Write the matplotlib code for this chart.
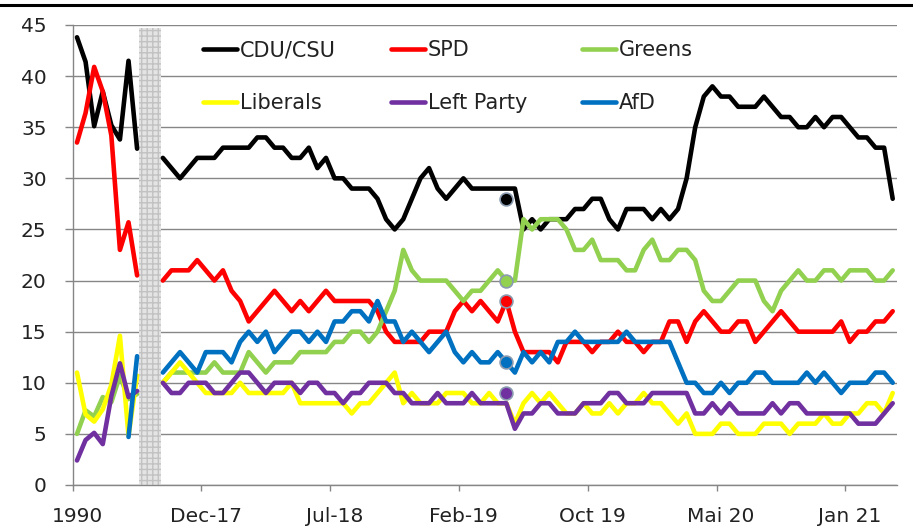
import numpy as np
import matplotlib
matplotlib.use("Agg")
import matplotlib.pyplot as plt
from matplotlib.lines import Line2D

# --- data -------------------------------------------------------------
# federal election results (1990 ... 2017), one category each
elections = ["1990", "1994", "1998", "2002", "2005", "2009", "2013", "2017"]
cdu_elec = [43.8, 41.4, 35.1, 38.5, 35.2, 33.8, 41.5, 32.9]
spd_elec = [33.5, 36.4, 40.9, 38.5, 34.2, 23.0, 25.7, 20.5]
grn_elec = [5.0, 7.3, 6.7, 8.6, 8.1, 10.7, 8.4, 8.9]
fdp_elec = [11.0, 6.9, 6.2, 7.4, 9.8, 14.6, 4.8, 10.7]
lnk_elec = [2.4, 4.4, 5.1, 4.0, 8.7, 11.9, 8.6, 9.2]
afd_elec = [np.nan, np.nan, np.nan, np.nan, np.nan, np.nan, 4.7, 12.6]

# empty categories between the two parts (shaded separator)
gap = [8, 9]

# polls, autumn 2017 ... spring 2021 (86 categories)
cdu_poll = [32, 31, 30, 31, 32, 32, 32, 33, 33, 33, 33, 34, 34, 33, 33, 32, 32, 33, 31, 32,
            30, 30, 29, 29, 29, 28, 26, 25, 26, 28, 30, 31, 29, 28, 29, 30, 29, 29, 29, 29,
            29, 29, 25, 26, 25, 26, 26, 26, 27, 27, 28, 28, 26, 25, 27, 27, 27, 26, 27, 26,
            27, 30, 35, 38, 39, 38, 38, 37, 37, 37, 38, 37, 36, 36, 35, 35, 36, 35, 36, 36,
            35, 34, 34, 33, 33, 28]
spd_poll = [20, 21, 21, 21, 22, 21, 20, 21, 19, 18, 16, 17, 18, 19, 18, 17, 18, 17, 18, 19,
            18, 18, 18, 18, 18, 17, 15, 14, 14, 14, 14, 15, 15, 15, 17, 18, 17, 18, 17, 16,
            18, 15, 13, 13, 13, 13, 12, 14, 14, 14, 13, 14, 14, 15, 14, 14, 13, 14, 14, 16,
            16, 14, 16, 17, 16, 15, 15, 16, 16, 14, 15, 16, 17, 16, 15, 15, 15, 15, 15, 16,
            14, 15, 15, 16, 16, 17]
grn_poll = [10, 11, 11, 11, 11, 11, 12, 11, 11, 11, 13, 12, 11, 12, 12, 12, 13, 13, 13, 13,
            14, 14, 15, 15, 14, 15, 17, 19, 23, 21, 20, 20, 20, 20, 19, 18, 19, 19, 20, 21,
            20, 20, 26, 25, 26, 26, 26, 25, 23, 23, 24, 22, 22, 22, 21, 21, 23, 24, 22, 22,
            23, 23, 22, 19, 18, 18, 19, 20, 20, 20, 18, 17, 19, 20, 21, 20, 20, 21, 21, 20,
            21, 21, 21, 20, 20, 21]
fdp_poll = [10, 11, 12, 11, 10, 9, 9, 9, 9, 10, 9, 9, 9, 9, 9, 10, 8, 8, 8, 8,
            8, 8, 7, 8, 8, 9, 10, 11, 8, 9, 8, 8, 8, 9, 9, 9, 8, 8, 9, 8,
            8, 6, 8, 9, 8, 9, 8, 7, 7, 8, 7, 7, 8, 7, 8, 8, 9, 8, 8, 7,
            6, 7, 5, 5, 5, 6, 6, 5, 5, 5, 6, 6, 6, 5, 6, 6, 6, 7, 6, 6,
            7, 7, 8, 8, 7, 9]
lnk_poll = [10, 9, 9, 10, 10, 10, 9, 9, 10, 11, 11, 10, 9, 10, 10, 10, 9, 10, 10, 9,
            9, 8, 9, 9, 10, 10, 10, 9, 9, 8, 8, 8, 9, 8, 8, 8, 9, 8, 8, 8,
            8, 5.5, 7, 7, 8, 8, 7, 7, 7, 8, 8, 8, 9, 9, 8, 8, 8, 9, 9, 9,
            9, 9, 7, 7, 8, 7, 8, 7, 7, 7, 7, 8, 7, 8, 8, 7, 7, 7, 7, 7,
            7, 6, 6, 6, 7, 8]
afd_poll = [11, 12, 13, 12, 11, 13, 13, 13, 12, 14, 15, 14, 15, 13, 14, 15, 15, 14, 15, 14,
            16, 16, 17, 17, 16, 18, 16, 16, 14, 15, 14, 13, 14, 15, 13, 12, 13, 12, 12, 13,
            12, 11, 13, 12, 13, 12, 14, 14, 15, 14, 14, 14, 14, 14, 15, 14, 14, 14, 14, 14,
            12, 10, 10, 9, 9, 10, 9, 10, 10, 11, 11, 10, 10, 10, 10, 11, 10, 11, 10, 9,
            10, 10, 10, 11, 11, 10]

# highlighted poll (category index and values)
mark_idx = 50
mark_vals = {"CDU/CSU": 28, "SPD": 18, "Greens": 20, "Left Party": 9, "AfD": 12}

tick_labels = ["1990", "Dec-17", "Jul-18", "Feb-19", "Oct 19", "Mai 20", "Jan 21"]
label_step = 15

parties = ["CDU/CSU", "SPD", "Greens", "Liberals", "Left Party", "AfD"]
colors = ["#000000", "#FF0000", "#92D050", "#FFFF00", "#7030A0", "#0070C0"]

blank = [np.nan] * len(gap)
series = {
    "CDU/CSU": cdu_elec + blank + cdu_poll,
    "SPD": spd_elec + blank + spd_poll,
    "Greens": grn_elec + blank + grn_poll,
    "Liberals": fdp_elec + blank + fdp_poll,
    "Left Party": lnk_elec + blank + lnk_poll,
    "AfD": afd_elec + blank + afd_poll,
}
n = len(series["CDU/CSU"])
x = np.arange(n)

# --- plot -------------------------------------------------------------
W, H = 913, 529
fig = plt.figure(figsize=(W / 100, H / 100), dpi=100)
ax = fig.add_axes([72.7 / W, 44 / H, (897 - 72.7) / W, 460 / H])

grey = "#868686"
txt = "#222222"

ax.axvspan(gap[0] - 0.75, gap[-1] + 0.75, ymax=44.7 / 45, facecolor="#e4e4e4",
           edgecolor="#c2c2c2", hatch="+++", linewidth=0, zorder=1)

handles = {}
for name, col in zip(parties, colors):
    ln, = ax.plot(x, series[name], color=col, lw=3.3, solid_joinstyle="round",
                  solid_capstyle="round", zorder=3, label=name)
    handles[name] = ln

for name, col in zip(parties, colors):
    if name in mark_vals:
        ax.scatter([mark_idx], [mark_vals[name]], s=85, color=col,
                   edgecolor="#8a9ab0", linewidth=1.2, zorder=4)

ax.set_xlim(-0.5, n - 0.5)
ax.set_ylim(0, 45)

ax.spines["top"].set_visible(False)
ax.spines["right"].set_visible(False)
for s in ("left", "bottom"):
    ax.spines[s].set_color(grey)
    ax.spines[s].set_linewidth(1)

ax.set_yticks(range(0, 46, 5))
ax.yaxis.grid(True, color=grey, lw=1)
ax.set_axisbelow(True)
ax.tick_params(axis="y", direction="out", length=5.8, width=1, color=grey,
               pad=13, labelsize=14.5, labelcolor=txt)

label_pos = np.arange(len(tick_labels)) * label_step
ax.set_xticks(label_pos, tick_labels)
ax.tick_params(axis="x", which="major", length=0, pad=15.5, labelsize=14.5, labelcolor=txt)
ax.set_xticks(label_pos - 0.5, minor=True)
ax.tick_params(axis="x", which="minor", direction="out", length=4.3, width=1, color=grey)

order = ["CDU/CSU", "Liberals", "SPD", "Left Party", "Greens", "AfD"]
leg = ax.legend([handles[k] for k in order], order, ncol=3, frameon=False,
                loc="upper left", bbox_to_anchor=(203 / W, 1 - 40 / H),
                bbox_transform=fig.transFigure, borderpad=0, borderaxespad=0,
                handlelength=1.63, handletextpad=0.15, columnspacing=2.62,
                labelspacing=1.6, fontsize=15)
for t in leg.get_texts():
    t.set_color(txt)

fig.add_artist(Line2D([0, 1], [1 - 5 / H] * 2, transform=fig.transFigure,
                      color="black", lw=2.2))

fig.savefig("out.png", dpi=100)
